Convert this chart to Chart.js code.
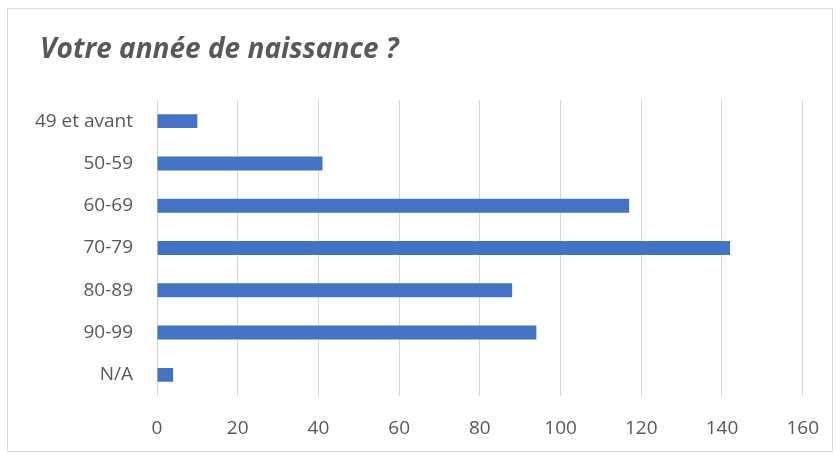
<!DOCTYPE html>
<html>
<head>
<meta charset="utf-8">
<script src="https://cdn.jsdelivr.net/npm/chart.js@4"></script>
<style>
  html, body { margin: 0; padding: 0; background: #fff; }
  #wrap { position: relative; width: 840px; height: 457px; }
</style>
</head>
<body>
<div id="wrap"><canvas id="myChart" width="840" height="457"></canvas></div>
<script>
const categories = ['49 et avant', '50-59', '60-69', '70-79', '80-89', '90-99', 'N/A']
const counts = [10, 41, 117, 142, 88, 94, 4]
const xTicks = [0, 20, 40, 60, 80, 100, 120, 140, 160]
const chartTitle = 'Votre année de naissance ?'

const textColor = '#595959'
const font = 'Open Sans'

// light frame around the whole chart + title placed left like the office export
const framePlugin = {
    id: 'frame',
    beforeDraw(chart) {
        const ctx = chart.ctx
        ctx.save()
        ctx.fillStyle = '#fff'
        ctx.fillRect(0, 0, chart.width, chart.height)
        ctx.strokeStyle = '#d9d9d9'
        ctx.lineWidth = 1
        ctx.strokeRect(7.5, 8.5, 825, 443)
        ctx.fillStyle = textColor
        ctx.font = `italic bold 28px "${font}"`
        ctx.textBaseline = 'middle'
        ctx.textAlign = 'left'
        ctx.fillText(chartTitle, 40, 50)
        ctx.restore()
    }
}

const ctx = document.getElementById('myChart').getContext('2d')
const chart = new Chart(ctx, {
    type: 'bar',
    data: {
        labels: categories,
        datasets: [{
            data: counts,
            backgroundColor: '#4472c4',
            borderWidth: 0,
            barPercentage: 0.33,
            categoryPercentage: 1
        }]
    },
    plugins: [framePlugin],
    options: {
        indexAxis: 'y',
        responsive: false,
        animation: false,
        layout: { padding: { left: 0, right: 37, top: 100, bottom: 0 } },
        plugins: {
            legend: { display: false },
            tooltip: { enabled: false },
            title: { display: false }
        },
        scales: {
            x: {
                min: 0,
                max: 160,
                afterBuildTicks: (scale) => { scale.ticks = xTicks.map((v) => ({ value: v })) },
                afterFit: (scale) => { scale.height = 61 },
                grid: { color: '#d6d6d6', lineWidth: 1, drawTicks: false },
                border: { display: false },
                ticks: { color: textColor, font: { family: font, size: 19 }, padding: 21 }
            },
            y: {
                afterFit: (scale) => { scale.width = 157 },
                grid: { display: false, drawTicks: false },
                border: { display: false },
                ticks: { color: textColor, font: { family: font, size: 19 }, padding: 24 }
            }
        }
    }
})
</script>
</body>
</html>
